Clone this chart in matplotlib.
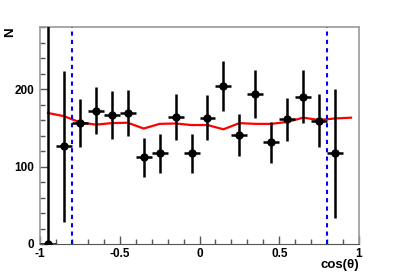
import matplotlib
matplotlib.use('Agg')
import matplotlib.pyplot as plt
import numpy as np
from matplotlib.ticker import MultipleLocator

# data
cos_bins = [-0.95, -0.85, -0.75, -0.65, -0.55, -0.45, -0.35, -0.25, -0.15, -0.05,
            0.05, 0.15, 0.25, 0.35, 0.45, 0.55, 0.65, 0.75, 0.85]
counts = [0, 126, 156, 172, 166, 169, 112, 117, 164, 117,
          163, 204, 141, 193, 131, 161, 190, 159, 117]
errors = [300, 97, 31, 30, 31, 30, 25, 25, 30, 25,
          29, 32, 27, 31, 26, 28, 34, 34, 83]
bin_half = 0.05

curve_x = [-0.95, -0.85, -0.75, -0.65, -0.55, -0.45, -0.35, -0.25, -0.15, -0.05,
           0.05, 0.15, 0.25, 0.35, 0.45, 0.55, 0.65, 0.75, 0.85, 0.95]
curve_y = [169, 165, 157, 154, 156, 156.5, 149, 155, 155.5, 153.5,
           153.5, 148, 156, 155, 155, 157.5, 163, 160, 162, 163]

cuts = [-0.8, 0.8]
xtick_labels = ['-1', '-0.5', '0', '0.5', '1']

plt.rcParams['font.family'] = ['Liberation Sans', 'DejaVu Sans']
plt.rcParams['font.weight'] = 'bold'

fig = plt.figure(figsize=(3.99, 2.72), dpi=100)
ax = fig.add_axes([40/399, 1-244/272, 319/399, 217/272])

ax.plot(curve_x, curve_y, color='red', lw=1.6, zorder=2)
for c in cuts:
    ax.plot([c, c], [0, 280], color='blue', lw=1.5, ls=(0, (2, 2)), zorder=3)

ax.errorbar(cos_bins, counts, yerr=errors, xerr=bin_half, fmt='o', color='black',
            ms=5, elinewidth=1.8, capsize=0, zorder=4, clip_on=True)

ax.set_xlim(-1, 1)
ax.set_ylim(0, 280)
ax.xaxis.set_minor_locator(MultipleLocator(0.1))
ax.yaxis.set_major_locator(MultipleLocator(100))
ax.yaxis.set_minor_locator(MultipleLocator(20))
ax.set_xticks([-1, -0.5, 0, 0.5, 1])
ax.set_xticklabels(xtick_labels)
ax.tick_params(which='both', direction='in', top=False, right=False,
               labelsize=8.5, color='#555555')
ax.tick_params(axis='x', pad=3)
ax.tick_params(axis='y', pad=4)
ax.tick_params(which='major', length=6, width=1)
ax.tick_params(which='minor', length=3.5, width=1)
for s in ['left', 'top', 'right']:
    ax.spines[s].set_color('#999999')
    ax.spines[s].set_linewidth(1.2)
ax.spines['bottom'].set_color('#555555')

fig.text(359/399, 1-265/272, 'cos(\u03b8)', ha='right', va='center',
         fontsize=9.5, fontweight='bold')
fig.text(10/399, 1-32/272, 'N', ha='center', va='center', rotation=90,
         fontsize=9.5, fontweight='bold')

fig.savefig('out.png', dpi=100)
